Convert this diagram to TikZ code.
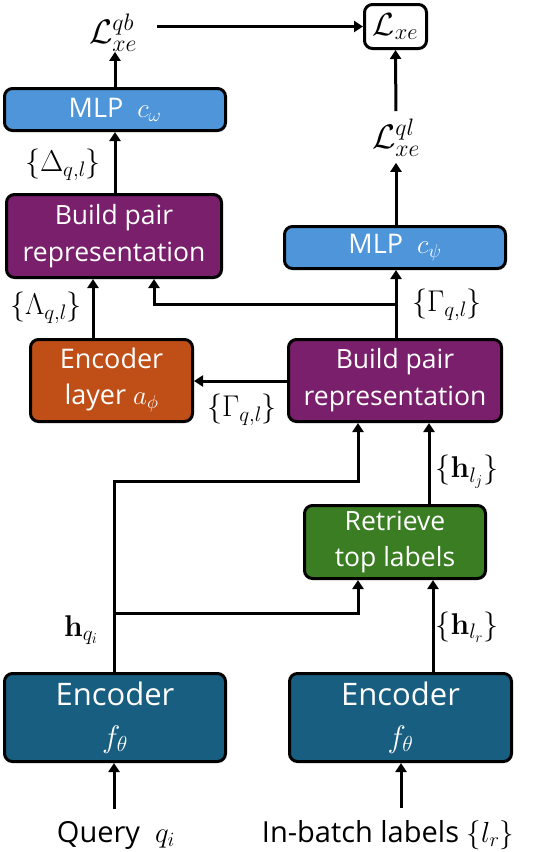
\RequirePackage{fix-cm}
\documentclass[tikz,border=0pt]{standalone}
\usepackage[no-math]{fontspec}
\setmainfont{Open Sans}
\usetikzlibrary{arrows.meta}
\definecolor{mlpblue}{HTML}{4E95D9}
\definecolor{bpurple}{HTML}{7A1F6B}
\definecolor{eorange}{HTML}{C04F17}
\definecolor{rgreen}{HTML}{3A7D22}
\definecolor{eteal}{HTML}{185E80}
\begin{document}
\begin{tikzpicture}[x=1pt,y=-1pt,
  box/.style={draw=black, line width=3pt, rounded corners=8pt, text=white, align=center, inner sep=0pt, font=\fontsize{26.5}{37}\selectfont},
  lbl/.style={inner sep=0pt, font=\fontsize{30}{36}\selectfont},
  arr/.style={line width=3pt, -{Triangle[length=9pt,width=11pt]}}]
\useasboundingbox (0,0) rectangle (546,852);
% boxes
\node[box, draw=black, text=black, fill=white, minimum width=62pt, minimum height=44pt, font=\fontsize{32}{36}\selectfont] (lxe) at (395.5,26.5) {$\mathcal{L}_{xe}$};
\node[lbl, font=\fontsize{34}{36}\selectfont] (lqb) at (113,33) {$\mathcal{L}_{xe}^{qb}$};
\node[lbl, font=\fontsize{34}{36}\selectfont] (lql) at (396,138) {$\mathcal{L}_{xe}^{ql}$};
\node[box, fill=mlpblue, minimum width=221pt, minimum height=42pt, font=\fontsize{27}{36}\selectfont] (mlpw) at (115,109.5) {MLP\ \ $c_\omega$};
\node[box, fill=bpurple, minimum width=215pt, minimum height=83pt] (bpl) at (114,236) {Build pair\\representation};
\node[box, fill=mlpblue, minimum width=221pt, minimum height=42pt, font=\fontsize{27}{36}\selectfont] (mlpp) at (395,247.5) {MLP\ \ $c_\psi$};
\node[box, fill=bpurple, minimum width=213pt, minimum height=82pt] (bpr) at (395,380.5) {Build pair\\representation};
\node[box, fill=eorange, minimum width=162pt, minimum height=82pt, font=\fontsize{27}{36}\selectfont] (enl) at (111.5,380.5) {Encoder\\layer $a_\phi$};
\node[box, fill=rgreen, minimum width=181pt, minimum height=73pt, font=\fontsize{26.5}{36}\selectfont] (ret) at (395,542) {Retrieve\\top labels};
\node[box, fill=eteal, minimum width=221pt, minimum height=88pt, font=\fontsize{31}{36}\selectfont] (encq) at (115,717.5) {Encoder\\[6pt]$f_\theta$};
\node[box, fill=eteal, minimum width=222pt, minimum height=88pt, font=\fontsize{31}{36}\selectfont] (encl) at (400.5,717.5) {Encoder\\[6pt]$f_\theta$};
\node[lbl, font=\fontsize{29}{36}\selectfont] (query) at (116,835) {Query\ \ $q_i$};
\node[lbl, font=\fontsize{29}{36}\selectfont] (inbatch) at (388,835) {In-batch labels $\{l_r\}$};
% edge labels
\node[lbl] (delta) at (63,165) {$\{\Delta_{q,l}\}$};
\node[lbl] (lambda) at (46,308) {$\{\Lambda_{q,l}\}$};
\node[lbl] (gam1) at (447,305) {$\{\Gamma_{q,l}\}$};
\node[lbl] (gam2) at (242,410) {$\{\Gamma_{q,l}\}$};
\node[lbl] (hlj) at (467,472) {$\{\mathbf{h}_{l_j}\}$};
\node[lbl] (hlr) at (467,627) {$\{\mathbf{h}_{l_r}\}$};
\node[lbl] (hqi) at (81,630) {$\mathbf{h}_{q_i}$};
% helper coordinates
\coordinate (xA) at (93,0);
\coordinate (xB) at (154,0);
\coordinate (xC) at (358,0);
\coordinate (xD) at (429,0);
\coordinate (xE) at (433,0);
\coordinate (xQ) at (114,0);
\coordinate (xR) at (396,0);
\coordinate (xL) at (115,0);
\coordinate (xI) at (401,0);
\coordinate (yA) at (0,481);
\coordinate (yB) at (0,613);
\coordinate (yC) at (0,304);
\coordinate (yD) at (0,381);
% connectors
\draw[arr, shorten <=12pt] (xQ |- query.north) -- (xQ |- encq.south);
\draw[arr, shorten <=12pt] (xI |- inbatch.north) -- (xI |- encl.south);
\draw[arr] (xQ |- encq.north) -- (xQ |- yA) -- (xC |- yA) -- (xC |- bpr.south);
\draw[arr] (xQ |- yB) -- (xC |- yB) -- (xC |- ret.south);
\draw[arr] (xE |- encl.north) -- (xE |- ret.south);
\draw[arr] (xD |- ret.north) -- (xD |- bpr.south);
\draw[arr] (bpr.west |- yD) -- (enl.east |- yD);
\draw[arr] (xA |- enl.north) -- (xA |- bpl.south);
\draw[arr] (xR |- bpr.north) -- (xR |- mlpp.south);
\draw[arr] (xR |- yC) -- (xB |- yC) -- (xB |- bpl.south);
\draw[arr] (xL |- bpl.north) -- (xL |- mlpw.south);
\draw[arr] (xL |- mlpw.north) -- (xL |- lqb.south);
\draw[arr, shorten >=6pt] (xR |- mlpp.north) -- (xR |- lql.south);
\draw[arr, shorten <=8pt] (xR |- lql.north) -- (lxe.south);
\draw[arr, shorten <=20pt] (lqb.east |- lxe.west) -- (lxe.west);
\end{tikzpicture}
\end{document}
